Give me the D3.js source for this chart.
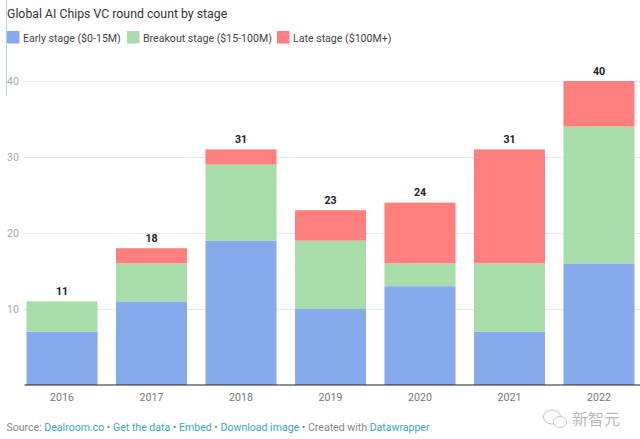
<!DOCTYPE html>
<html>
<head>
<meta charset="utf-8">
<script src="https://cdn.jsdelivr.net/npm/d3@7"></script>
<style>
  html, body { margin: 0; padding: 0; background: #fff; overflow: hidden; }
  svg { display: block; font-family: Roboto, sans-serif; }
</style>
</head>
<body>
<svg id="chart" width="640" height="439"></svg>
<script>
const years = ["2016", "2017", "2018", "2019", "2020", "2021", "2022"]
const early = [7, 11, 19, 10, 13, 7, 16]
const breakout = [4, 5, 10, 9, 3, 9, 18]
const late = [0, 2, 2, 4, 8, 15, 6]
const totals = [11, 18, 31, 23, 24, 31, 40]
const stages = ["Early stage ($0-15M)", "Breakout stage ($15-100M)", "Late stage ($100M+)"]
const stageColors = ["#86aaec", "#a8dcaa", "#ff7f7f"]
const yTicks = [10, 20, 30, 40]

let svg = d3.select("#chart")

let x = d3.scaleBand().domain(years).range([26.5, 634.5]).paddingInner(0.206).paddingOuter(0)
let y = d3.scaleLinear().domain([0, 40]).range([385, 81])

// left edge artefact of the screenshot
svg.append("line")
  .attr("x1", 6.5).attr("x2", 6.5).attr("y1", 0).attr("y2", 96)
  .attr("stroke", "#b5d3e6").attr("stroke-width", 1)

svg.append("text")
  .attr("x", 7).attr("y", 18)
  .attr("font-size", 12.3).attr("fill", "#333")
  .text("Global AI Chips VC round count by stage")

// legend
let legendX = [7, 127, 277]
let legend = svg.selectAll(".legend").data(stages).join("g")
  .classed("legend", true)
  .attr("transform", (d, i) => `translate(${legendX[i]},31)`)
legend.append("rect")
  .attr("width", 12.5).attr("height", 12.5)
  .attr("fill", (d, i) => stageColors[i])
legend.append("text")
  .attr("x", 16).attr("y", 10.5)
  .attr("font-size", 10.6).attr("fill", "#444")
  .text(d => d)

// grid
let yAxis = d3.axisLeft(y).tickValues(yTicks).tickSize(-616).tickPadding(0)
let yG = svg.append("g").attr("transform", "translate(24,0)").call(yAxis)
yG.select(".domain").remove()
yG.selectAll(".tick line").attr("stroke", "#e8e8e8")
yG.selectAll(".tick text")
  .attr("x", -17).attr("text-anchor", "start")
  .attr("font-family", "Roboto, sans-serif").attr("font-size", 10.6).attr("fill", "#aaa")

// stacked bars
let rows = years.map((yr, i) => ({ year: yr, early: early[i], breakout: breakout[i], late: late[i] }))
let stack = d3.stack().keys(["early", "breakout", "late"])(rows)
svg.selectAll(".series").data(stack).join("g")
  .classed("series", true)
  .attr("fill", (d, i) => stageColors[i])
  .selectAll("rect").data(d => d).join("rect")
  .attr("x", d => x(d.data.year))
  .attr("width", x.bandwidth())
  .attr("y", d => y(d[1]))
  .attr("height", d => y(d[0]) - y(d[1]))

// totals
svg.selectAll(".total").data(years).join("text")
  .classed("total", true)
  .attr("x", d => x(d) + x.bandwidth() / 2)
  .attr("y", (d, i) => y(totals[i]) - 6.5)
  .attr("text-anchor", "middle")
  .attr("font-size", 10.6).attr("font-weight", 700).attr("fill", "#222")
  .text((d, i) => totals[i])

// x axis
let xAxis = d3.axisBottom(x).tickSize(0).tickPadding(8)
let xG = svg.append("g").attr("transform", "translate(0,385)").call(xAxis)
xG.select(".domain").attr("d", "M24.5,0H640").attr("stroke", "#222").attr("stroke-width", 1.2)
xG.selectAll(".tick text")
  .attr("font-family", "Roboto, sans-serif").attr("font-size", 10.6).attr("fill", "#777")

// footer
let footer = svg.append("text").attr("x", 6.5).attr("y", 431).attr("font-size", 10.55).attr("fill", "#888")
let footerParts = [
  ["Source: ", 0], ["Dealroom.co", 1], [" • ", 0], ["Get the data", 1], [" • ", 0], ["Embed", 1],
  [" • ", 0], ["Download image", 1], [" • Created with ", 0], ["Datawrapper", 1]
]
footer.selectAll("tspan").data(footerParts).join("tspan")
  .attr("fill", d => d[1] ? "#3aa6c0" : "#888")
  .text(d => d[0])

// watermark
let mark = svg.append("g").attr("transform", "translate(543,409)").attr("fill", "none").attr("stroke", "#c4c4c4")
mark.append("ellipse").attr("cx", 9).attr("cy", 8).attr("rx", 8.5).attr("ry", 7)
mark.append("ellipse").attr("cx", 17).attr("cy", 13).attr("rx", 6.5).attr("ry", 5.5).attr("fill", "#fff")
svg.append("text")
  .attr("x", 572).attr("y", 425)
  .attr("font-family", "'Noto Sans CJK SC'").attr("font-size", 16).attr("fill", "#bbb")
  .text("新智元")
</script>
</body>
</html>
